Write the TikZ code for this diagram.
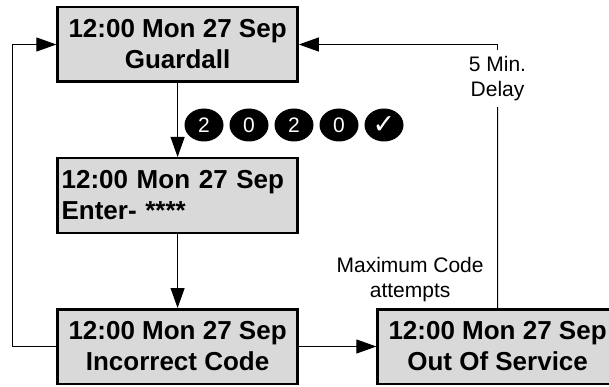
\documentclass[tikz,border=0pt]{standalone}
\usepackage{fontspec}
\setmainfont{Liberation Sans}
\newfontfamily\symfont{DejaVu Sans}
\usepackage{tikz}
\usetikzlibrary{shapes.geometric}
\usetikzlibrary{positioning}
\usetikzlibrary{arrows.meta}
\definecolor{lcdgray}{HTML}{D9D9D9}
\tikzstyle{screen} = [rectangle, minimum width=240pt, minimum height=74.5pt, inner sep=4pt, text centered, align=center, draw=black, line width=2.5pt, fill=lcdgray, font=\fontsize{26}{31}\selectfont\bfseries]
\tikzstyle{note} = [align=center, inner sep=0pt, font=\fontsize{21}{25}\selectfont]
\tikzstyle{keycap} = [ellipse, minimum width=39pt, minimum height=33pt, inner sep=0pt, fill=black, text=white, font=\fontsize{21}{21}\selectfont]
\tikzstyle{arrow} = [line width=1pt,-{Triangle[length=20pt,width=14pt]}]
\tikzstyle{link} = [line width=1pt]

\begin{document}
\begin{tikzpicture}[node distance=151pt]
        \useasboundingbox (-177.6pt,44.5pt) rectangle (431.4pt,-342.5pt);
        \clip (-177.6pt,44.5pt) rectangle (431.4pt,-342.5pt);
        \node (guardall) [screen] {12:00 Mon 27 Sep\\Guardall};
        \node (enter) [screen, below of=guardall, text width=232pt, align=left] {12:00 Mon 27 Sep\\Enter- ****};
        \node (incorrect) [screen, below of=enter] {12:00 Mon 27 Sep\\Incorrect Code};
        \node (outofservice) [screen, right of=incorrect, xshift=169pt] {12:00 Mon 27 Sep\\Out Of Service};

        % code keys
        \foreach \k/\lbl in {1/2, 2/0, 3/2, 4/0, 5/{\symfont\bfseries\fontsize{27}{27}\selectfont ✓}}
            \node (key\k) [keycap] at ({26.4pt+(\k-1)*45pt}, -80.5pt) {\lbl};

        \node (delaylabel) [note, inner ysep=6pt] at (319.9pt,-34.2pt) {5 Min.\\Delay};
        \node (maxlabel) [note, above=6pt of outofservice.north west, xshift=33.75pt] {Maximum Code\\attempts};
        \coordinate (leftturn) at (-165pt,0pt);

        \draw [arrow] (guardall) -- (enter);
        \draw [arrow] (enter) -- (incorrect);
        \draw [arrow] (incorrect) -- (outofservice);
        \draw [arrow] (incorrect.west) -| (leftturn) -- (guardall.west);
        \draw [link] (outofservice.north) -- (delaylabel.south);
        \draw [arrow] (delaylabel.north) |- (guardall.east);
    \end{tikzpicture}
\end{document}
